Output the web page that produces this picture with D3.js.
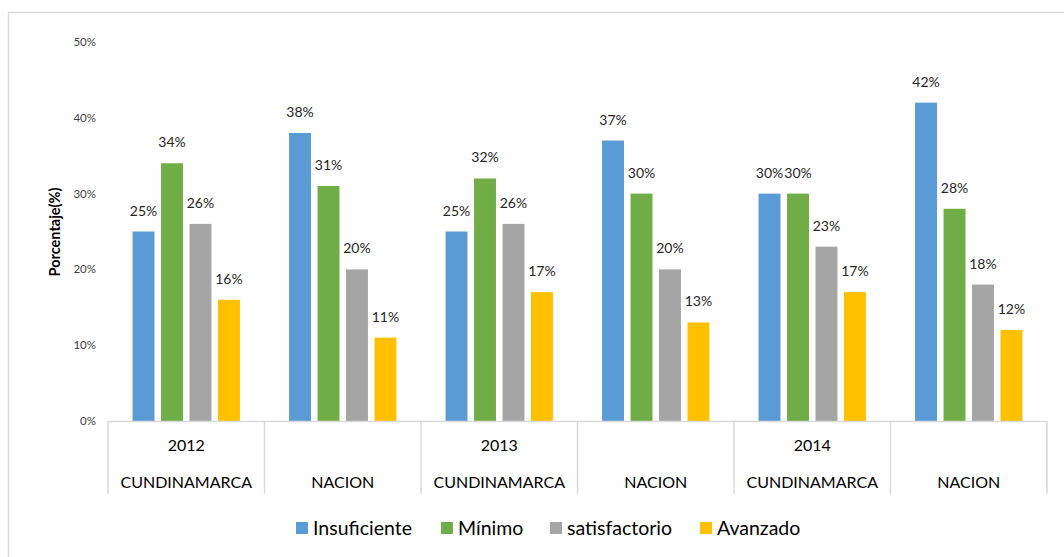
<!DOCTYPE html>
<html>
<head>
<meta charset="utf-8">
<script src="https://cdn.jsdelivr.net/npm/d3@7"></script>
<style>
  html, body { margin: 0; padding: 0; background: #fff; }
  svg { display: block; font-family: Lato, "Noto Sans", sans-serif; }
</style>
</head>
<body>
<svg id="chart" width="1064" height="557"></svg>
<script>
const years = ["2012", "", "2013", "", "2014", ""];
const regions = ["CUNDINAMARCA", "NACION", "CUNDINAMARCA", "NACION", "CUNDINAMARCA", "NACION"];
const seriesNames = ["Insuficiente", "Mínimo", "satisfactorio", "Avanzado"];
const seriesColors = ["#5B9BD5", "#70AD47", "#A5A5A5", "#FFC000"];
const insuficiente = [25, 38, 25, 37, 30, 42];
const minimo = [34, 31, 32, 30, 30, 28];
const satisfactorio = [26, 20, 26, 20, 23, 18];
const avanzado = [16, 11, 17, 13, 17, 12];
const yTicks = [0, 10, 20, 30, 40, 50];
const yTitle = "Porcentaje(%)";

(function () {
const seriesValues = [insuficiente, minimo, satisfactorio, avanzado];
const svg = d3.select("#chart");

// outer frame
svg.append("rect").attr("x", 8.5).attr("y", 12.5).attr("width", 1070).attr("height", 560)
  .attr("fill", "none").attr("stroke", "#d9d9d9").attr("stroke-width", 1.5);

const pLeft = 108, pRight = 1047, pTop = 42, pBottom = 421;
const groupIdx = d3.range(regions.length);
const x0 = d3.scaleBand().domain(groupIdx).range([pLeft, pRight]).padding(0);
const gw = x0.bandwidth();
const x1 = d3.scaleBand().domain(d3.range(seriesNames.length))
  .range([gw * 0.157, gw * 0.843]).paddingInner(0.23).paddingOuter(0);
const y = d3.scaleLinear().domain([0, 50]).range([pBottom, pTop]);

// y tick labels
svg.append("g").selectAll("text").data(yTicks).join("text")
  .attr("x", 96).attr("y", d => y(d)).attr("dy", "0.35em")
  .attr("text-anchor", "end").attr("font-size", 11.5).attr("fill", "#404040")
  .text(d => d + "%");

// y title
svg.append("text")
  .attr("transform", `translate(60,232) rotate(-90)`)
  .attr("text-anchor", "middle").attr("font-size", 14.5).attr("font-weight", "bold")
  .attr("fill", "#000").text(yTitle);

// bars
const groups = svg.append("g").selectAll("g").data(groupIdx).join("g")
  .attr("transform", d => `translate(${x0(d)},0)`);
seriesNames.forEach((name, si) => {
  groups.append("rect")
    .attr("x", x1(si)).attr("width", x1.bandwidth())
    .attr("y", g => y(seriesValues[si][g]))
    .attr("height", g => pBottom - y(seriesValues[si][g]))
    .attr("fill", seriesColors[si]);
  groups.append("text")
    .attr("x", x1(si) + x1.bandwidth() / 2)
    .attr("y", g => y(seriesValues[si][g]) - 16)
    .attr("text-anchor", "middle").attr("font-size", 14).attr("fill", "#262626")
    .text(g => seriesValues[si][g] + "%");
});

// x axis line and dividers
svg.append("line").attr("x1", pLeft).attr("x2", pRight).attr("y1", pBottom + 0.5).attr("y2", pBottom + 0.5)
  .attr("stroke", "#d9d9d9").attr("stroke-width", 1.5);
const dividers = groupIdx.map(d => x0(d)).concat([pRight]);
svg.append("g").selectAll("line").data(dividers).join("line")
  .attr("x1", d => d).attr("x2", d => d).attr("y1", pBottom).attr("y2", 494)
  .attr("stroke", "#d9d9d9").attr("stroke-width", 1.5);

// category labels
svg.append("g").selectAll("text").data(groupIdx).join("text")
  .attr("x", d => x0(d) + gw / 2).attr("y", 445).attr("dy", "0.35em")
  .attr("text-anchor", "middle").attr("font-size", 16).attr("fill", "#000")
  .text(d => years[d]);
svg.append("g").selectAll("text").data(groupIdx).join("text")
  .attr("x", d => x0(d) + gw / 2).attr("y", 482).attr("dy", "0.35em")
  .attr("text-anchor", "middle").attr("font-size", 16).attr("fill", "#000")
  .text(d => regions[d]);

// legend
const legendX = [296, 441, 550, 700];
const lg = svg.append("g").selectAll("g").data(seriesNames).join("g")
  .attr("transform", (d, i) => `translate(${legendX[i]},528)`);
lg.append("rect").attr("x", 0).attr("y", -6).attr("width", 12).attr("height", 12)
  .attr("fill", (d, i) => seriesColors[i]);
lg.append("text").attr("x", 17).attr("y", 0).attr("dy", "0.35em")
  .attr("font-size", 19.5).attr("fill", "#000").text(d => d);
})();
</script>
</body>
</html>
